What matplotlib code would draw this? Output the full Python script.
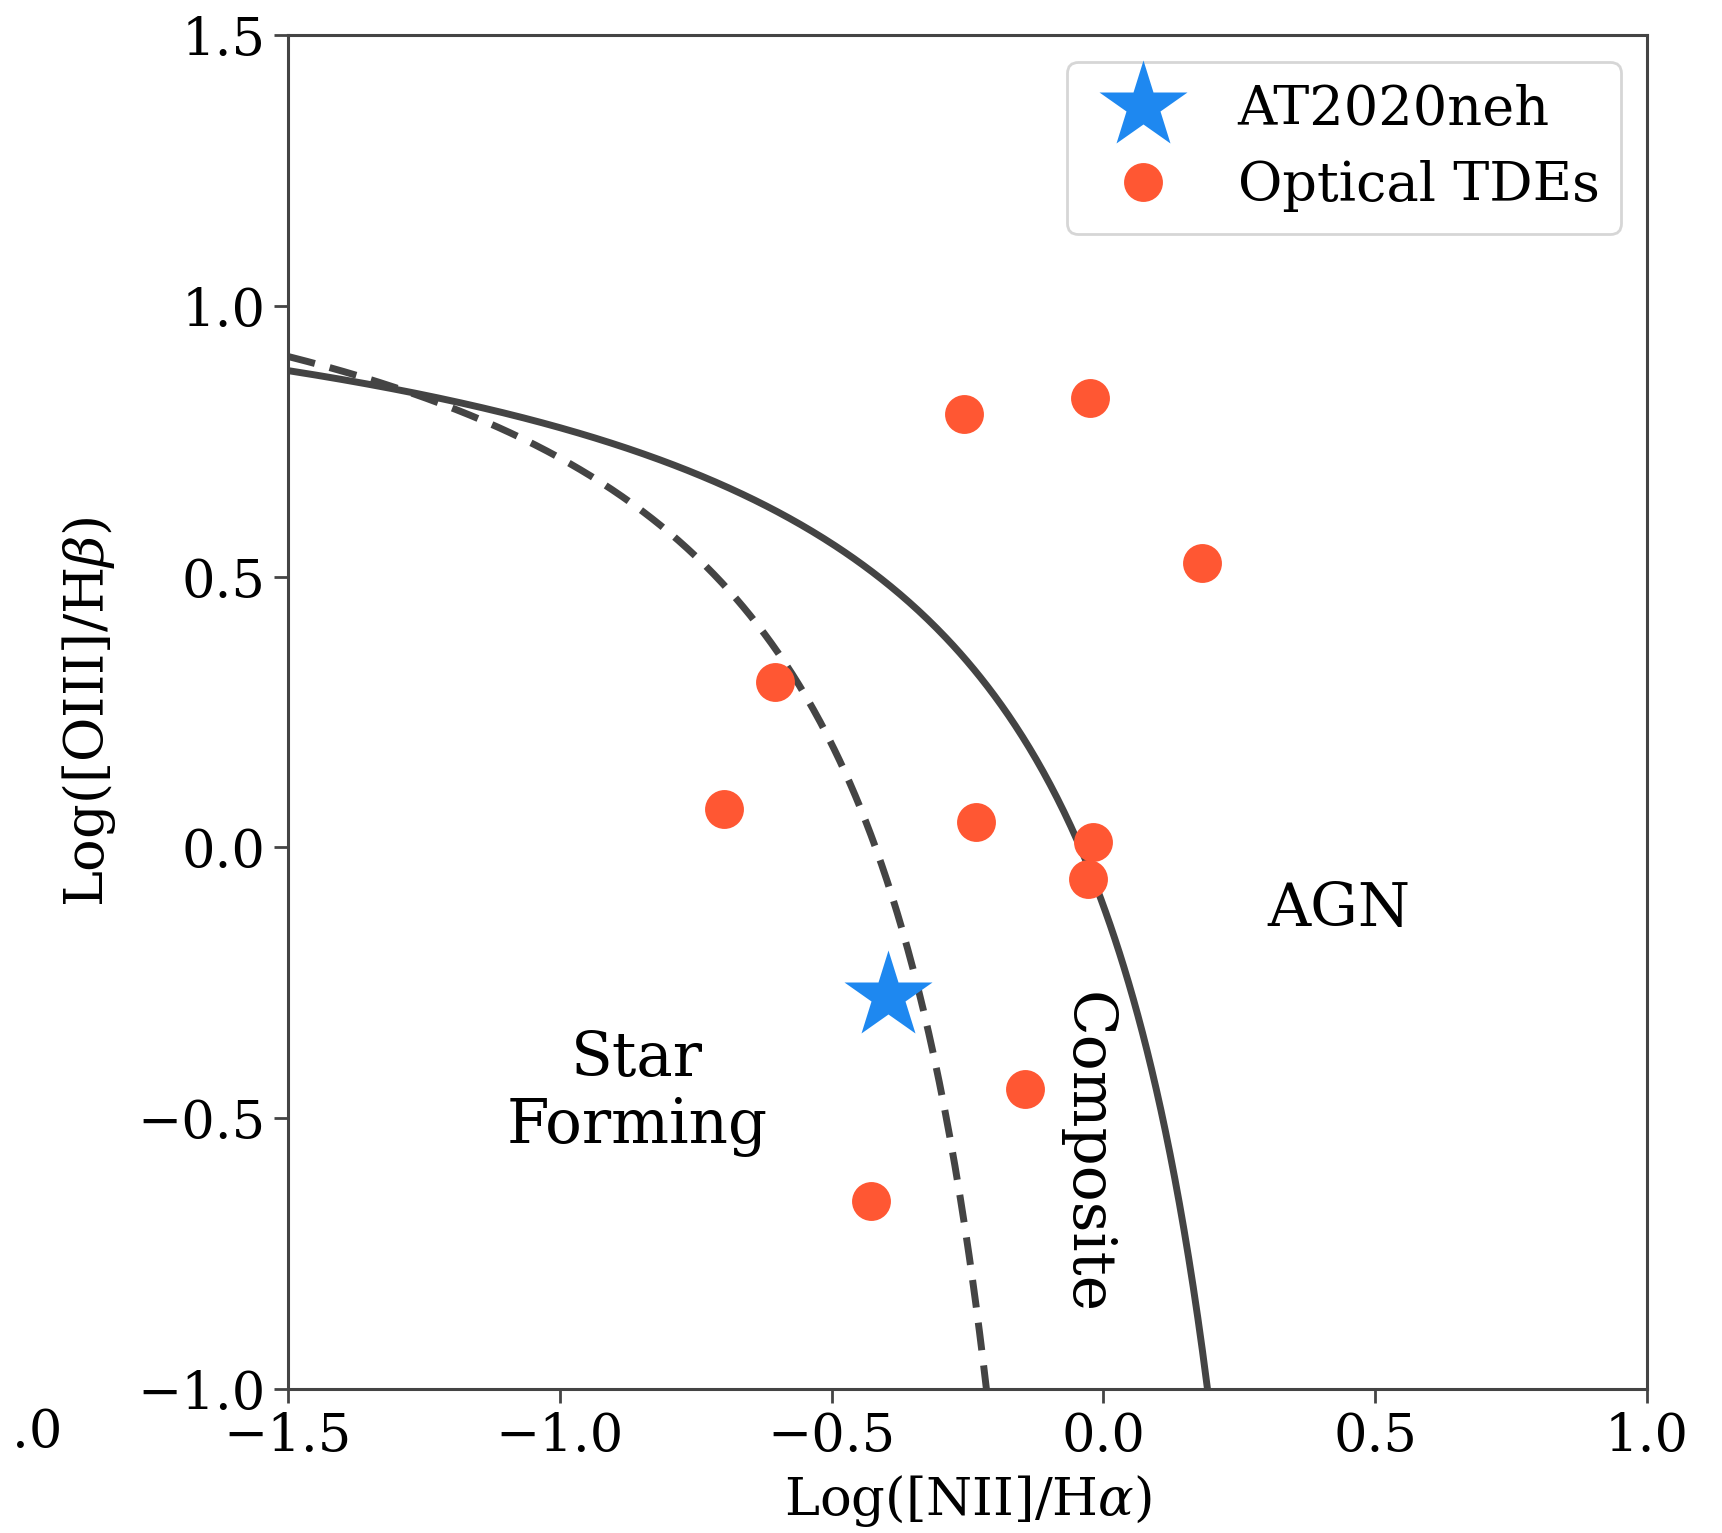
import numpy as np
import matplotlib
matplotlib.use("Agg")
import matplotlib.pyplot as plt

plt.rcParams["font.family"] = "DejaVu Serif"
plt.rcParams["mathtext.fontset"] = "dejavuserif"

# AT2020neh host line ratios
star_x = [-0.397]
star_y = [-0.274]

# optical TDE hosts: log([NII]/Ha), log([OIII]/Hb)
tde_x = [-0.256, -0.024, 0.182, -0.605, -0.698, -0.234, -0.020, -0.028, -0.145, -0.428]
tde_y = [0.800, 0.830, 0.525, 0.306, 0.071, 0.046, 0.010, -0.059, -0.446, -0.653]

# demarcation curves y = a / (x - b) + c
kewley = (0.61, 0.47, 1.19)
kauffmann = (0.61, 0.05, 1.30)

fig = plt.figure(figsize=(17.22, 15.33), dpi=100)
ax = fig.add_axes([288 / 1722, 1 - 1389 / 1533, (1647 - 288) / 1722, (1389 - 35) / 1533])

line_col = "#444444"
xk = np.linspace(-1.5, 0.195, 400)
ax.plot(xk, kewley[0] / (xk - kewley[1]) + kewley[2], color=line_col, lw=5, zorder=2)
xf = np.linspace(-1.5, -0.215, 400)
ax.plot(xf, kauffmann[0] / (xf - kauffmann[1]) + kauffmann[2], color=line_col, lw=5,
        ls=(0, (4, 2.2)), zorder=2)

ax.plot(tde_x, tde_y, "o", color="#FF5733", ms=28, mec="none", label="Optical TDEs", zorder=3)
ax.plot(star_x, star_y, "*", color="#1E88F0", ms=66, mec="none", label="AT2020neh", zorder=4)

ax.set_xlim(-1.5, 1.0)
ax.set_ylim(-1.0, 1.5)
ax.set_xticks([-1.5, -1.0, -0.5, 0.0, 0.5, 1.0])
ax.set_yticks([-1.0, -0.5, 0.0, 0.5, 1.0, 1.5])
ax.tick_params(labelsize=38, length=10, width=2, color="#444444", pad=6)
for s in ax.spines.values():
    s.set_linewidth(2.2)
    s.set_color("#444444")

ax.set_xlabel(r"Log([NII]/H$\alpha$)", fontsize=38, labelpad=8)
ax.set_ylabel(r"Log([OIII]/H$\beta$)", fontsize=39, labelpad=14)

ax.text(0.433, -0.114, "AGN", fontsize=43, ha="center", va="center")
ax.text(-0.858, -0.453, "Star\nForming", fontsize=44, ha="center", va="center", linespacing=1.15)
ax.text(-0.030, -0.564, "Composite", fontsize=43, ha="center", va="center", rotation=270)

handles, labels = ax.get_legend_handles_labels()
leg = ax.legend(handles[::-1], labels[::-1], loc="upper right", fontsize=39,
                markerscale=1.0, borderpad=0.4, handletextpad=0.75,
                labelspacing=0.45, borderaxespad=0, bbox_to_anchor=(0.981, 0.980))
leg.get_frame().set_linewidth(2)

# stray tick label from the neighbouring panel
fig.text(62 / 1722, 1 - 1433 / 1533, ".0", fontsize=38, ha="right", va="center")

fig.savefig("out.png", dpi=100)
